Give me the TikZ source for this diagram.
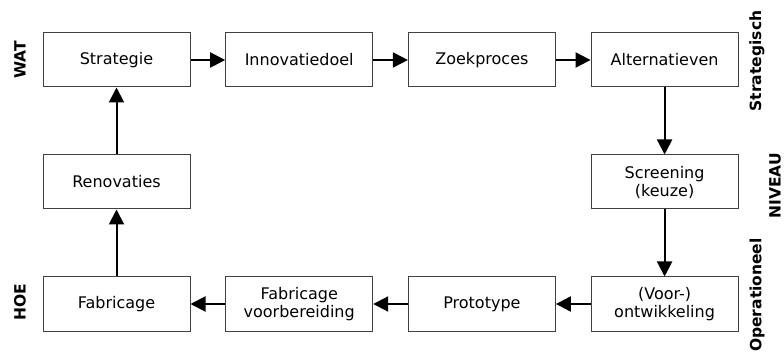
\documentclass[tikz,border=0pt]{standalone}
\usepackage{fontspec}
\setmainfont{DejaVu Sans}
\usetikzlibrary{arrows.meta,positioning}

\tikzset{
  box/.style={draw=black!75, line width=1pt, minimum width=147pt, minimum height=54pt,
    align=center, inner sep=2pt, font=\fontsize{16}{18}\selectfont},
  flow/.style={line width=2pt, -{Triangle[length=15pt,width=15pt]}},
  level/.style={rotate=90, font=\bfseries\fontsize{15.5}{17}\selectfont}
}

\begin{document}
\begin{tikzpicture}[x=1pt,y=-1pt]
  \useasboundingbox (0,0) rectangle (784,355);
  % top row: wat
  \node[box] (strat) at (116.5,60) {Strategie};
  \node[box, right=34.7pt of strat] (doel) {Innovatiedoel};
  \node[box, right=34.7pt of doel] (zoek) {Zoekproces};
  \node[box, right=34.7pt of zoek] (alt) {Alternatieven};
  % right column down
  \node[box, below=67pt of alt] (screen) {Screening\\(keuze)};
  \node[box, below=67pt of screen] (ontw) {(Voor-)\\ontwikkeling};
  % bottom row: hoe
  \node[box, left=34.7pt of ontw] (proto) {Prototype};
  \node[box, left=34.7pt of proto] (voorb) {Fabricage\\voorbereiding};
  \node[box, left=34.7pt of voorb] (fabr) {Fabricage};
  \node[box, above=67pt of fabr] (renov) {Renovaties};

  \draw[flow] (strat) -- (doel);
  \draw[flow] (doel) -- (zoek);
  \draw[flow] (zoek) -- (alt);
  \draw[flow] (alt) -- (screen);
  \draw[flow] (screen) -- (ontw);
  \draw[flow] (ontw) -- (proto);
  \draw[flow] (proto) -- (voorb);
  \draw[flow] (voorb) -- (fabr);
  \draw[flow] (fabr) -- (renov);
  \draw[flow] (renov) -- (strat);

  % side labels
  \node[level] (wat) at (20,60) {WAT};
  \node[level] (hoe) at (20,302) {HOE};
  \node[level] (strg) at (757,61) {Strategisch};
  \node[level] (niv) at (775,186) {NIVEAU};
  \node[level] (oper) at (757,295) {Operationeel};
\end{tikzpicture}
\end{document}
